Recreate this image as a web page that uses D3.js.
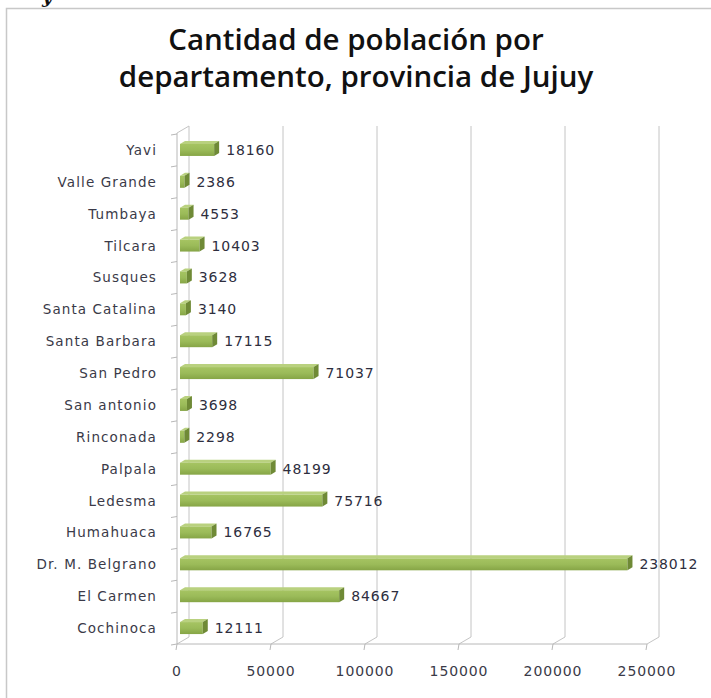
<!DOCTYPE html>
<html>
<head>
<meta charset="utf-8">
<script src="https://cdn.jsdelivr.net/npm/d3@7"></script>
<style>
  body { margin: 0; background: #fff; }
  svg { display: block; }
</style>
</head>
<body>
<div id="chart"></div>
<script>
// departamentos, top to bottom as in the chart
var departamentos = ["Yavi", "Valle Grande", "Tumbaya", "Tilcara", "Susques", "Santa Catalina",
  "Santa Barbara", "San Pedro", "San antonio", "Rinconada", "Palpala", "Ledesma",
  "Humahuaca", "Dr. M. Belgrano", "El Carmen", "Cochinoca"];
var poblacion = [18160, 2386, 4553, 10403, 3628, 3140, 17115, 71037, 3698, 2298,
  48199, 75716, 16765, 238012, 84667, 12111];
var xTicks = [0, 50000, 100000, 150000, 200000, 250000];
var titleLines = ["Cantidad de población por", "departamento, provincia de Jujuy"];

var W = 711, H = 698;
var svg = d3.select("#chart").append("svg")
  .attr("width", W)
  .attr("height", H);

// outer frame (only top and left edges visible)
svg.append("path")
  .attr("d", "M6.5,698 L6.5,8.5 L711,8.5")
  .attr("fill", "none")
  .attr("stroke", "#c8c8c8")
  .attr("stroke-width", 1.5);

// fragment of the text above the chart, cut by the top edge as in the picture
svg.append("text")
  .attr("x", 42).attr("y", 3)
  .style("font-family", "DejaVu Serif")
  .style("font-style", "italic")
  .style("font-weight", "bold")
  .style("font-size", "18px")
  .attr("fill", "#111")
  .text("y");

// title
svg.selectAll(".title")
  .data(titleLines)
  .enter().append("text")
  .attr("class", "title")
  .attr("x", 356)
  .attr("y", function(d, i) { return 50 + i * 37; })
  .attr("text-anchor", "middle")
  .style("font-family", "Open Sans")
  .style("font-weight", 600)
  .style("font-size", "29.5px")
  .attr("fill", "#111")
  .text(function(d) { return d; });

// 3D geometry: front plane, back wall plane, bar plane
var depthX = 12, depthY = -7;
var xFront = d3.scaleLinear().domain([0, 250000]).range([177, 647]);
var xBar = d3.scaleLinear().domain([0, 250000]).range([180, 650]);
var y = d3.scaleBand().domain(departamentos).range([134, 644]);
var floorY = 644, topY = 133;

var grid = svg.append("g").attr("fill", "none").attr("stroke", "#c4c4c4").attr("stroke-width", 1);

// back wall gridlines
grid.selectAll(".vgrid")
  .data(xTicks)
  .enter().append("line")
  .attr("x1", function(d) { return xFront(d) + depthX; })
  .attr("x2", function(d) { return xFront(d) + depthX; })
  .attr("y1", topY + depthY)
  .attr("y2", floorY + depthY);

// floor diagonals
grid.selectAll(".fdiag")
  .data(xTicks)
  .enter().append("line")
  .attr("x1", function(d) { return xFront(d); })
  .attr("x2", function(d) { return xFront(d) + depthX; })
  .attr("y1", floorY)
  .attr("y2", floorY + depthY);

// left wall top diagonal
grid.append("line")
  .attr("x1", xFront(0)).attr("y1", topY)
  .attr("x2", xFront(0) + depthX).attr("y2", topY + depthY);

// front axes
grid.append("line")
  .attr("x1", xFront(0)).attr("x2", xFront(250000))
  .attr("y1", floorY).attr("y2", floorY)
  .attr("stroke", "#b8b8b8");
grid.append("line")
  .attr("x1", xFront(0)).attr("x2", xFront(0))
  .attr("y1", topY).attr("y2", floorY)
  .attr("stroke", "#b8b8b8");

// x ticks (down) and category ticks (left)
grid.selectAll(".xt")
  .data(xTicks)
  .enter().append("line")
  .attr("x1", function(d) { return xFront(d); })
  .attr("x2", function(d) { return xFront(d) - 1; })
  .attr("y1", floorY)
  .attr("y2", floorY + 6)
  .attr("stroke", "#b8b8b8");

var bounds = departamentos.map(function(d) { return y(d); }).concat([y.range()[1]]);
grid.selectAll(".yt")
  .data(bounds)
  .enter().append("line")
  .attr("x1", xFront(0) - 6)
  .attr("x2", xFront(0))
  .attr("y1", function(d) { return d + 1; })
  .attr("y2", function(d) { return d; })
  .attr("stroke", "#b8b8b8");

// x tick labels
svg.selectAll(".xl")
  .data(xTicks)
  .enter().append("text")
  .attr("x", function(d) { return xFront(d); })
  .attr("y", 676)
  .attr("text-anchor", "middle")
  .style("font-family", "DejaVu Sans")
  .style("font-size", "14px")
  .style("letter-spacing", "0.9px")
  .attr("fill", "#3a3a48")
  .text(function(d) { return d; });

// category labels
svg.selectAll(".yl")
  .data(departamentos)
  .enter().append("text")
  .attr("x", 157)
  .attr("y", function(d) { return y(d) + y.bandwidth() / 2 + 5; })
  .attr("text-anchor", "end")
  .style("font-family", "DejaVu Sans")
  .style("font-size", "13.5px")
  .style("letter-spacing", "1.1px")
  .attr("fill", "#3a3a48")
  .text(function(d) { return d; });

// gradient for bar front face
var defs = svg.append("defs");
var grad = defs.append("linearGradient")
  .attr("id", "barFront")
  .attr("x1", 0).attr("y1", 0).attr("x2", 0).attr("y2", 1);
grad.append("stop").attr("offset", "0%").attr("stop-color", "#a6c462");
grad.append("stop").attr("offset", "50%").attr("stop-color", "#9bbb59");
grad.append("stop").attr("offset", "100%").attr("stop-color", "#86a546");

var data = departamentos.map(function(d, i) { return { name: d, value: poblacion[i] }; });

var barH = 12, topH = 3, sideW = 5;
var bars = svg.selectAll(".bar")
  .data(data)
  .enter().append("g")
  .attr("class", "bar")
  .attr("transform", function(d) {
    return "translate(0," + (y(d.name) + y.bandwidth() / 2 - 9) + ")";
  });

// top face
bars.append("path")
  .attr("d", function(d) {
    var x0 = xBar(0), x1 = xBar(d.value);
    return "M" + x0 + "," + topH + " L" + (x0 + sideW) + ",0 L" + (x1 + sideW) + ",0 L" + x1 + "," + topH + " Z";
  })
  .attr("fill", "#b9d17f");

// front face
bars.append("rect")
  .attr("x", xBar(0))
  .attr("y", topH)
  .attr("width", function(d) { return xBar(d.value) - xBar(0); })
  .attr("height", barH)
  .attr("fill", "url(#barFront)");

// side face
bars.append("path")
  .attr("d", function(d) {
    var x1 = xBar(d.value);
    return "M" + x1 + "," + topH + " L" + (x1 + sideW) + ",0 L" + (x1 + sideW) + "," + barH + " L" + x1 + "," + (topH + barH) + " Z";
  })
  .attr("fill", "#6f8a36");

// value labels
bars.append("text")
  .attr("x", function(d) { return xBar(d.value) + 12; })
  .attr("y", 14)
  .style("font-family", "DejaVu Sans")
  .style("font-size", "14px")
  .style("letter-spacing", "0.9px")
  .attr("fill", "#2e2e3e")
  .text(function(d) { return d.value; });
</script>
</body>
</html>
